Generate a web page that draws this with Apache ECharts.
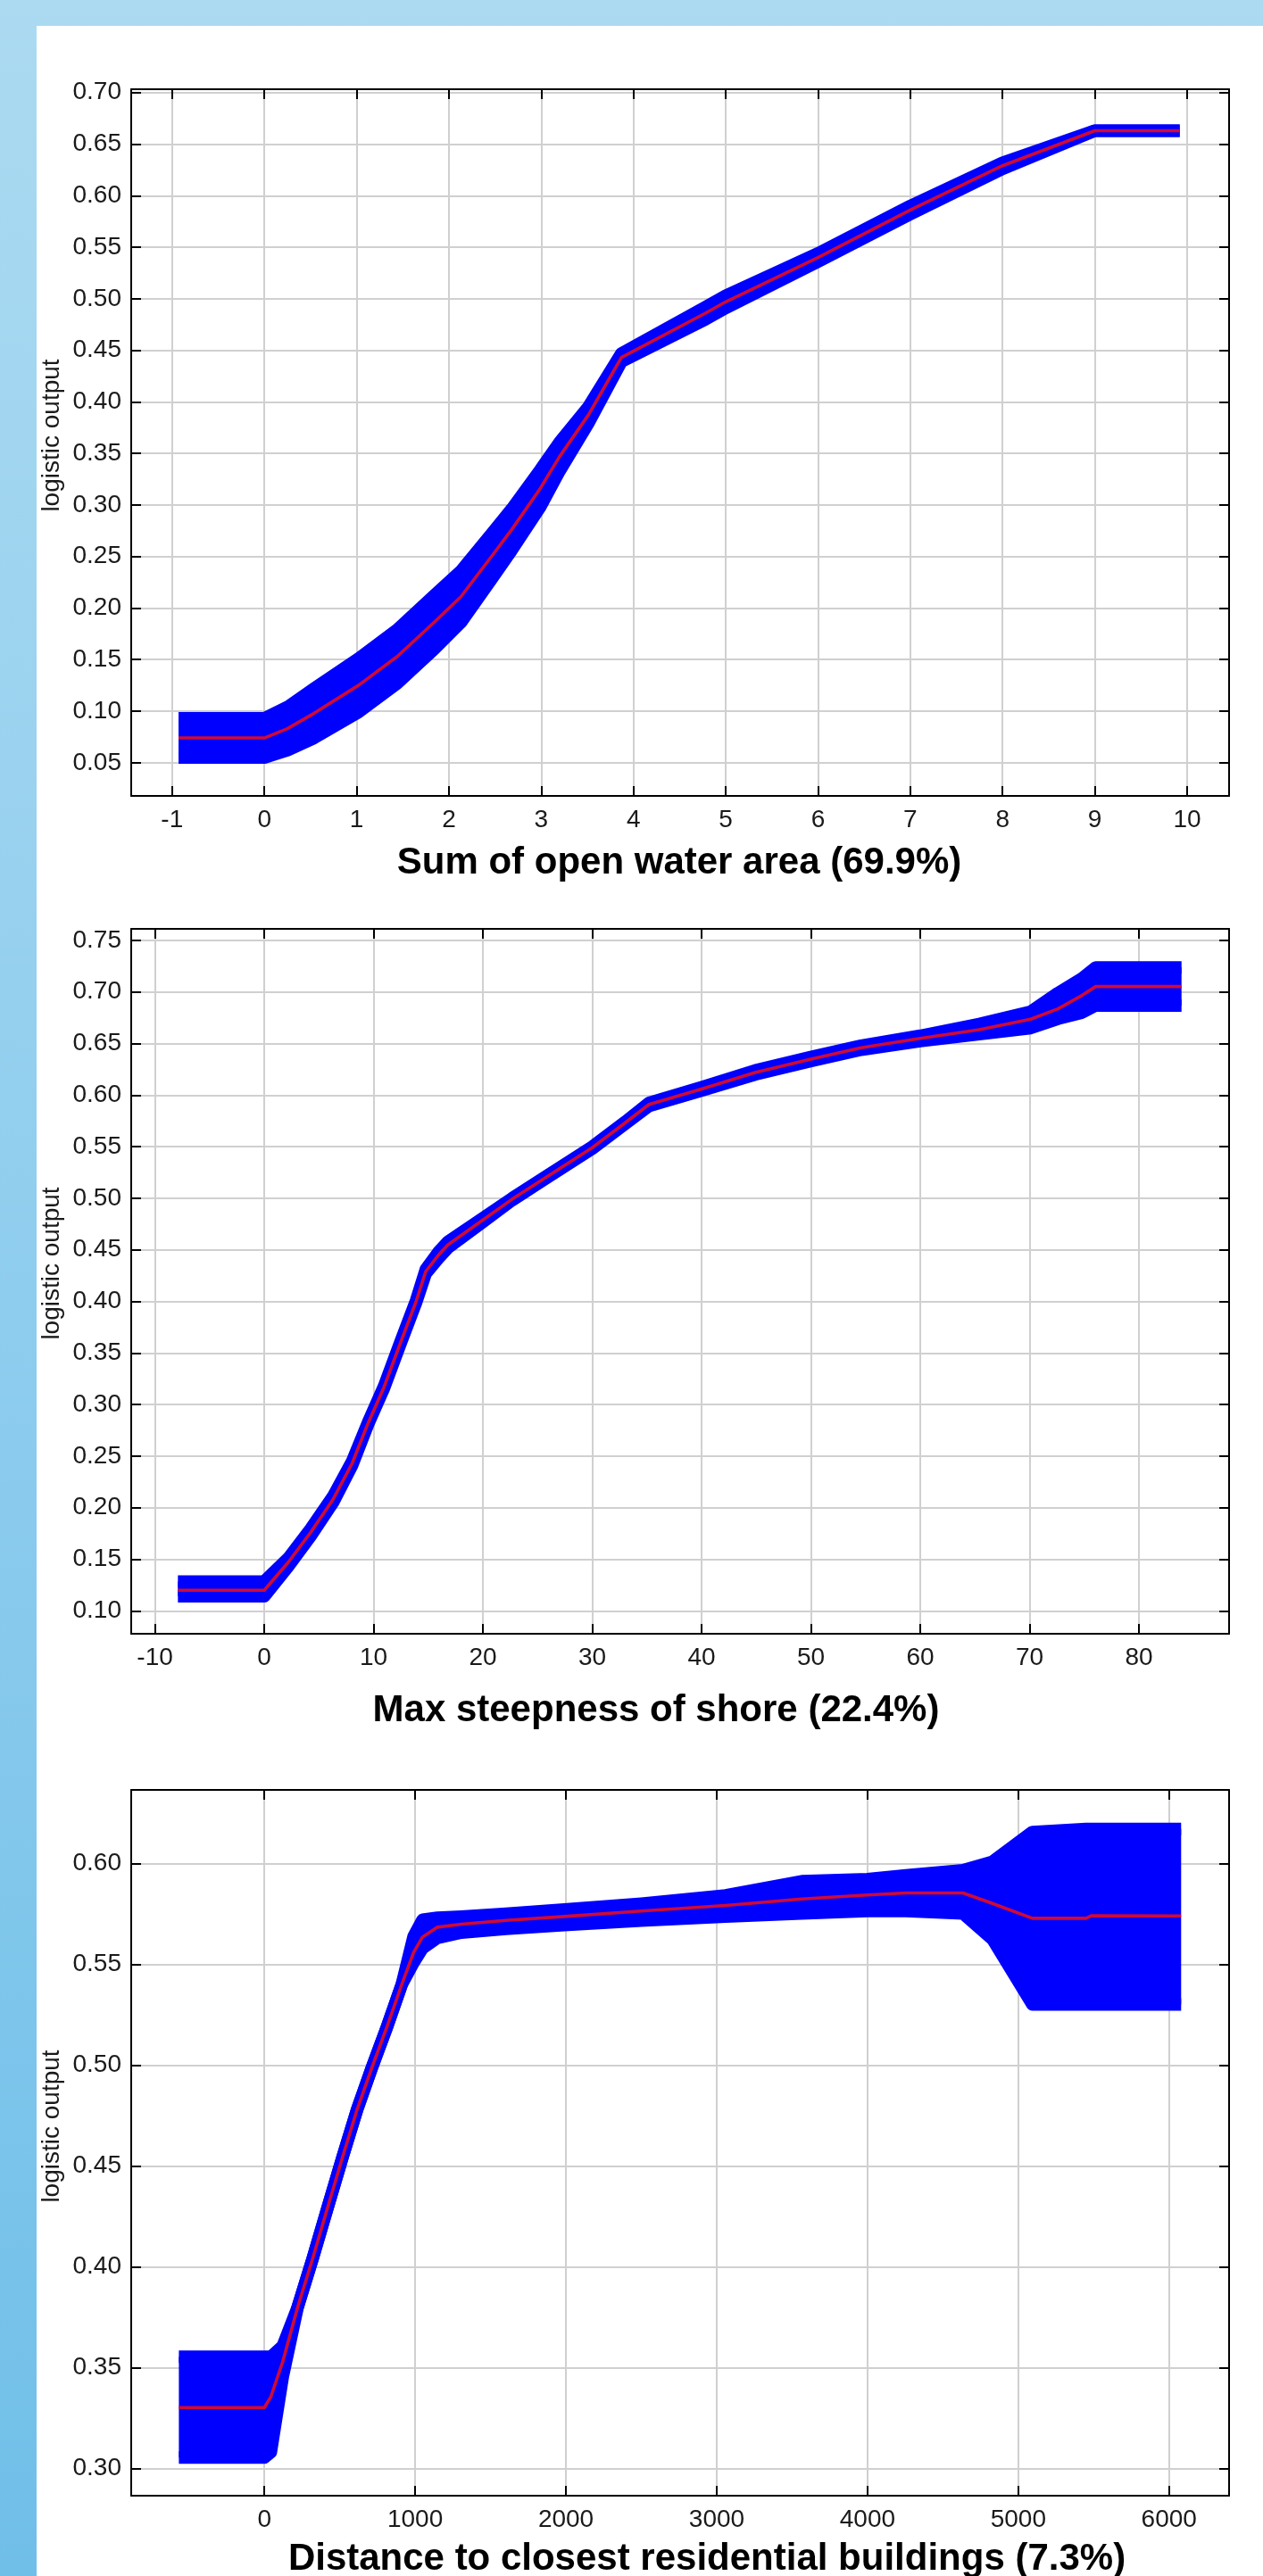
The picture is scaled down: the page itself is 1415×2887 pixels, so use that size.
<!DOCTYPE html>
<html>
<head>
<meta charset="utf-8">
<script src="https://cdn.jsdelivr.net/npm/echarts@6/dist/echarts.min.js"></script>
<style>
  html, body { margin: 0; padding: 0; }
  body { width: 1415px; height: 2887px; position: relative; overflow: hidden;
         background: linear-gradient(to bottom, #abdaf1 0%, #8fcdee 50%, #70bfe9 100%); }
  #panel { position: absolute; left: 41px; top: 29px; width: 1374px; height: 2858px; background: #ffffff; }
  #chart { position: absolute; left: 0; top: 0; width: 1415px; height: 2887px; }
</style>
</head>
<body>
<div id="panel"></div>
<div id="chart"></div>
<script>
// ---------- Chart 1: Sum of open water area ----------
const x1 =     [-0.93, 0,     0.25,  0.54,  1.02,  1.44,  1.85,  2.13,  2.47,  2.68,  2.99,  3.20,  3.51,  3.87,  4.78,  5,     6,     7,     8,     9,     9.92];
const mean1 =  [0.074, 0.074, 0.083, 0.098, 0.125, 0.153, 0.187, 0.211, 0.251, 0.276, 0.316, 0.347, 0.387, 0.443, 0.486, 0.497, 0.540, 0.586, 0.629, 0.663, 0.663];
const lower1 = [0.055, 0.055, 0.062, 0.074, 0.099, 0.127, 0.161, 0.186, 0.229, 0.256, 0.298, 0.333, 0.379, 0.439, 0.480, 0.491, 0.536, 0.582, 0.626, 0.663, 0.663];
const upper1 = [0.093, 0.093, 0.104, 0.122, 0.151, 0.179, 0.213, 0.236, 0.273, 0.296, 0.334, 0.361, 0.395, 0.447, 0.492, 0.503, 0.544, 0.590, 0.632, 0.663, 0.663];
const xTicks1 = [-1, 0, 1, 2, 3, 4, 5, 6, 7, 8, 9, 10];
const yTicks1 = [0.05, 0.10, 0.15, 0.20, 0.25, 0.30, 0.35, 0.40, 0.45, 0.50, 0.55, 0.60, 0.65, 0.70];
const title1 = 'Sum of open water area (69.9%)';

// ---------- Chart 2: Max steepness of shore ----------
const x2 =     [-7.9,   0,      2.19,  4.24,   6.29,  8.04,  9.50,  10.96, 12.43, 13.89, 14.77, 15.94, 16.81, 19.74, 22.66, 25.58, 30,    33,    35.2,   40,     44.9,  50,    54.6,  60,     65.4,   70.1,   72.6,   74.8,   76.05,  83.9];
const mean2 =  [0.120,  0.120,  0.147, 0.176,  0.208, 0.243, 0.282, 0.317, 0.359, 0.400, 0.429, 0.445, 0.455, 0.477, 0.499, 0.519, 0.549, 0.573, 0.591,  0.606,  0.622, 0.635, 0.646, 0.655,  0.6635, 0.6736, 0.6837, 0.6967, 0.7053, 0.7053];
const lower2 = [0.1141, 0.1141, 0.143, 0.1725, 0.205, 0.241, 0.281, 0.316, 0.358, 0.399, 0.427, 0.442, 0.452, 0.475, 0.498, 0.518, 0.548, 0.572, 0.5895, 0.6043, 0.620, 0.633, 0.644, 0.6524, 0.659,  0.665,  0.674,  0.680,  0.6869, 0.6869];
const upper2 = [0.1285, 0.1285, 0.151, 0.1795, 0.211, 0.245, 0.283, 0.318, 0.360, 0.401, 0.431, 0.448, 0.458, 0.479, 0.500, 0.520, 0.550, 0.574, 0.5925, 0.6077, 0.624, 0.637, 0.648, 0.6576, 0.669,  0.681,  0.699,  0.7132, 0.7237, 0.7237];
const xTicks2 = [-10, 0, 10, 20, 30, 40, 50, 60, 70, 80];
const yTicks2 = [0.10, 0.15, 0.20, 0.25, 0.30, 0.35, 0.40, 0.45, 0.50, 0.55, 0.60, 0.65, 0.70, 0.75];
const title2 = 'Max steepness of shore (22.4%)';

// ---------- Chart 3: Distance to closest residential buildings ----------
const x3 =     [-567,   0,      43,     122,    221,   320,   418,   517,   615,   714,   813,   911,   990,   1049,   1148,   1306,   1602,   1989,   2500,   3059,   3564,   4000,   4254,   4633,   4829,   5093,   5450,   5484,   6080];
const mean3 =  [0.3302, 0.3302, 0.3355, 0.3530, 0.380, 0.404, 0.429, 0.454, 0.478, 0.499, 0.519, 0.540, 0.556, 0.5636, 0.5685, 0.5700, 0.5719, 0.5738, 0.5765, 0.5793, 0.5825, 0.5845, 0.5855, 0.5855, 0.5803, 0.5729, 0.5729, 0.5742, 0.5741];
const lower3 = [0.3054, 0.3054, 0.3080, 0.3453, 0.380, 0.404, 0.429, 0.454, 0.478, 0.499, 0.519, 0.540, 0.551, 0.5580, 0.5632, 0.5658, 0.5677, 0.5695, 0.5718, 0.5738, 0.5753, 0.5765, 0.5765, 0.5753, 0.5625, 0.5302, 0.5302, 0.5302, 0.5302];
const upper3 = [0.3554, 0.3554, 0.3554, 0.3608, 0.380, 0.404, 0.429, 0.454, 0.478, 0.499, 0.519, 0.540, 0.564, 0.5722, 0.5732, 0.5738, 0.5752, 0.5773, 0.5802, 0.5843, 0.5913, 0.5923, 0.5942, 0.5968, 0.6010, 0.6157, 0.6172, 0.6172, 0.6172];
const xTicks3 = [0, 1000, 2000, 3000, 4000, 5000, 6000];
const yTicks3 = [0.30, 0.35, 0.40, 0.45, 0.50, 0.55, 0.60];
const title3 = 'Distance to closest residential buildings (7.3%)';

const yName = 'logistic output';

// ---------- layout / style ----------
const FONT = "'Liberation Sans', Arial, Helvetica, sans-serif";
const BLUE = '#0000ff';
const RED = '#cf0a35';
const GRIDC = '#d0d0d0';
const EDGE = 14;

const panels = [
  { x: x1, m: mean1, lo: lower1, hi: upper1, xt: xTicks1, yt: yTicks1, xmin: -1.443, xmax: 10.455, ymin: 0.0178, ymax: 0.7032,
    top: 100, height: 792, title: title1, tx: 761, ty: 967, ny: 488 },
  { x: x2, m: mean2, lo: lower2, hi: upper2, xt: xTicks2, yt: yTicks2, xmin: -12.17, xmax: 88.25, ymin: 0.0778, ymax: 0.7612,
    top: 1041, height: 790, title: title2, tx: 735, ty: 1917, ny: 1416 },
  { x: x3, m: mean3, lo: lower3, hi: upper3, xt: xTicks3, yt: yTicks3, xmin: -883, xmax: 6398, ymin: 0.2865, ymax: 0.6366,
    top: 2006, height: 791, title: title3, tx: 792, ty: 2868, ny: 2383 }
];

const grids = [], xAxes = [], yAxes = [], series = [], graphics = [];
const axisLineStyle = { show: true, onZero: false, lineStyle: { color: '#000', width: 2 } };
const labelStyle = { color: '#1a1a1a', fontSize: 28, fontFamily: FONT };

panels.forEach(function (p, g) {
  grids.push({ left: 147, top: p.top, width: 1230, height: p.height, containLabel: false, outerBoundsMode: 'none' });
  xAxes.push({
    gridIndex: g, type: 'value', position: 'bottom', min: p.xmin, max: p.xmax,
    axisLine: axisLineStyle,
    axisTick: { show: true, inside: true, length: 11, lineStyle: { color: '#000', width: 2 }, customValues: p.xt },
    axisLabel: Object.assign({ show: true, margin: 13, customValues: p.xt, formatter: function (v) { return String(v); } }, labelStyle),
    splitLine: { show: true, lineStyle: { color: GRIDC, width: 2 } }
  });
  xAxes.push({
    gridIndex: g, type: 'value', position: 'top', min: p.xmin, max: p.xmax,
    axisLine: axisLineStyle,
    axisTick: { show: true, inside: true, length: 11, lineStyle: { color: '#000', width: 2 }, customValues: p.xt },
    axisLabel: { show: false, customValues: p.xt },
    splitLine: { show: false }
  });
  yAxes.push({
    gridIndex: g, type: 'value', position: 'left', min: p.ymin, max: p.ymax,
    axisLine: axisLineStyle,
    axisTick: { show: true, inside: true, length: 11, lineStyle: { color: '#000', width: 2 }, customValues: p.yt },
    axisLabel: Object.assign({ show: true, margin: 11, customValues: p.yt, formatter: function (v) { return v.toFixed(2); } }, labelStyle),
    splitLine: { show: true, lineStyle: { color: GRIDC, width: 2 } }
  });
  yAxes.push({
    gridIndex: g, type: 'value', position: 'right', min: p.ymin, max: p.ymax,
    axisLine: axisLineStyle,
    axisTick: { show: true, inside: true, length: 11, lineStyle: { color: '#000', width: 2 }, customValues: p.yt },
    axisLabel: { show: false, customValues: p.yt },
    splitLine: { show: false }
  });

  const xs = p.x, lo = p.lo, hi = p.hi;
  series.push({
    type: 'custom', xAxisIndex: 2 * g, yAxisIndex: 2 * g, silent: true, z: 2, clip: true,
    data: xs.map(function (x, i) { return [x, lo[i], hi[i]]; }),
    encode: { x: 0, y: [1, 2] },
    renderItem: function (params, api) {
      if (params.dataIndex !== 0) return null;
      const lp = xs.map(function (x, i) { return api.coord([x, lo[i]]); });
      const hp = xs.map(function (x, i) { return api.coord([x, hi[i]]); });
      const poly = lp.concat(hp.slice().reverse());
      return {
        type: 'group',
        children: [
          { type: 'polygon', shape: { points: poly }, style: { fill: BLUE, stroke: null } },
          { type: 'polyline', shape: { points: lp }, style: { fill: null, stroke: BLUE, lineWidth: EDGE, lineJoin: 'round', lineCap: 'butt' } },
          { type: 'polyline', shape: { points: hp }, style: { fill: null, stroke: BLUE, lineWidth: EDGE, lineJoin: 'round', lineCap: 'butt' } }
        ]
      };
    }
  });
  series.push({
    type: 'line', xAxisIndex: 2 * g, yAxisIndex: 2 * g, silent: true, z: 3,
    data: xs.map(function (x, i) { return [x, p.m[i]]; }),
    showSymbol: false, symbol: 'none',
    lineStyle: { color: RED, width: 3.6, join: 'round' }
  });

  graphics.push({
    type: 'text', x: p.tx, y: p.ty, silent: true,
    style: { text: p.title, fill: '#000', font: "bold 42px " + FONT, align: 'center', verticalAlign: 'middle' }
  });
  graphics.push({
    type: 'text', x: 58, y: p.ny, rotation: Math.PI / 2, silent: true,
    style: { text: yName, fill: '#1a1a1a', font: "28px " + FONT, align: 'center', verticalAlign: 'middle' }
  });
});

const chart = echarts.init(document.getElementById('chart'), null, { renderer: 'canvas', width: 1415, height: 2887 });
chart.setOption({
  animation: false,
  backgroundColor: 'transparent',
  grid: grids,
  xAxis: xAxes,
  yAxis: yAxes,
  series: series,
  graphic: graphics
});
</script>
</body>
</html>
